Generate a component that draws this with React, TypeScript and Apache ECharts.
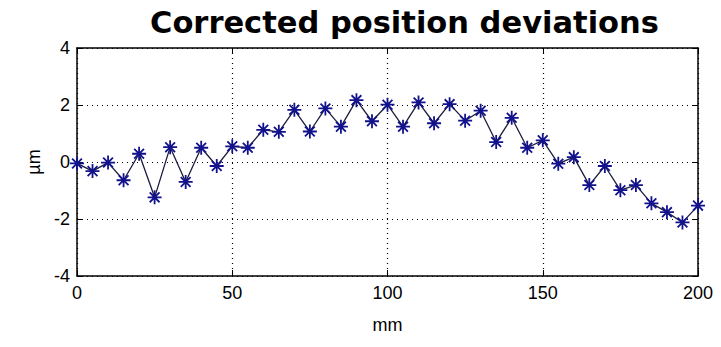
import React, { useEffect, useRef } from "react";
import * as echarts from "echarts";

const positions = [0,5,10,15,20,25,30,35,40,45,50,55,60,65,70,75,80,85,90,95,100,105,110,115,120,125,130,135,140,145,150,155,160,165,170,175,180,185,190,195,200];
const deviations = [-0.05,-0.32,-0.02,-0.64,0.29,-1.24,0.52,-0.70,0.50,-0.14,0.55,0.50,1.13,1.06,1.83,1.07,1.88,1.24,2.17,1.43,2.01,1.24,2.09,1.36,2.03,1.45,1.80,0.70,1.55,0.50,0.76,-0.06,0.17,-0.81,-0.14,-0.99,-0.81,-1.45,-1.76,-2.12,-1.53];
const titleText = "Corrected position deviations";
const xName = "mm";
const yName = "\u00b5m";

const labelFont = "'Liberation Sans Narrow', 'Liberation Sans', Arial, sans-serif";

export default function App() {
  const ref = useRef<HTMLDivElement>(null);
  useEffect(() => {
    if (!ref.current) return;
    const chart = echarts.init(ref.current, null, { renderer: "svg" });
    const data = positions.map((x, i) => [x, deviations[i]]);
    const axisText = { fontFamily: labelFont, fontSize: 18, color: "#000" };
    chart.setOption({
      animation: false,
      backgroundColor: "#fff",
      title: {
        text: titleText,
        left: 145,
        top: 2,
        textStyle: { fontFamily: "'DejaVu Sans', Verdana, sans-serif", fontWeight: "bold", fontSize: 30.5, color: "#000" },
      },
      grid: { left: 77, right: 23, top: 48, bottom: 71 },
      xAxis: [
        {
          type: "value",
          min: 0,
          max: 200,
          interval: 50,
          position: "bottom",
          name: xName,
          nameLocation: "middle",
          nameGap: 40,
          nameTextStyle: axisText,
          axisLine: { show: true, onZero: false, lineStyle: { color: "#000", width: 1.5 } },
          axisTick: { show: true, inside: true, length: 6, lineStyle: { color: "#000" } },
          axisLabel: { ...axisText, margin: 8 },
          splitLine: { show: true, lineStyle: { color: "#000", type: [1, 4], width: 1.2 } },
        },
        {
          type: "value",
          min: 0,
          max: 200,
          interval: 50,
          position: "top",
          axisLine: { show: true, onZero: false, lineStyle: { color: "#000", width: 1.5 } },
          axisTick: { show: true, inside: true, length: 6, lineStyle: { color: "#000" } },
          axisLabel: { show: false },
          splitLine: { show: false },
        },
      ],
      yAxis: [
        {
          type: "value",
          min: -4,
          max: 4,
          interval: 2,
          position: "left",
          name: yName,
          nameLocation: "middle",
          nameGap: 31,
          nameRotate: 90,
          nameTextStyle: axisText,
          axisLine: { show: true, onZero: false, lineStyle: { color: "#000", width: 1.5 } },
          axisTick: { show: true, inside: true, length: 6, lineStyle: { color: "#000" } },
          axisLabel: { ...axisText, margin: 7 },
          splitLine: { show: true, lineStyle: { color: "#000", type: [1, 4], width: 1.2 } },
        },
        {
          type: "value",
          min: -4,
          max: 4,
          interval: 2,
          position: "right",
          axisLine: { show: true, onZero: false, lineStyle: { color: "#000", width: 1.5 } },
          axisTick: { show: true, inside: true, length: 6, lineStyle: { color: "#000" } },
          axisLabel: { show: false },
          splitLine: { show: false },
        },
      ],
      series: [
        {
          type: "line",
          data,
          xAxisIndex: 0,
          yAxisIndex: 0,
          symbol: "path://M10,0L10,20M0,10L20,10M3,3L17,17M17,3L3,17",
          symbolSize: 14,
          itemStyle: { color: "#12128c", borderColor: "#12128c", borderWidth: 1.8 },
          lineStyle: { color: "#1c1c3c", width: 1.3 },
        },
      ],
    });
    return () => chart.dispose();
  }, []);
  return <div ref={ref} style={{ width: 721, height: 347, position: "absolute", left: 0, top: 0 }} />;
}
